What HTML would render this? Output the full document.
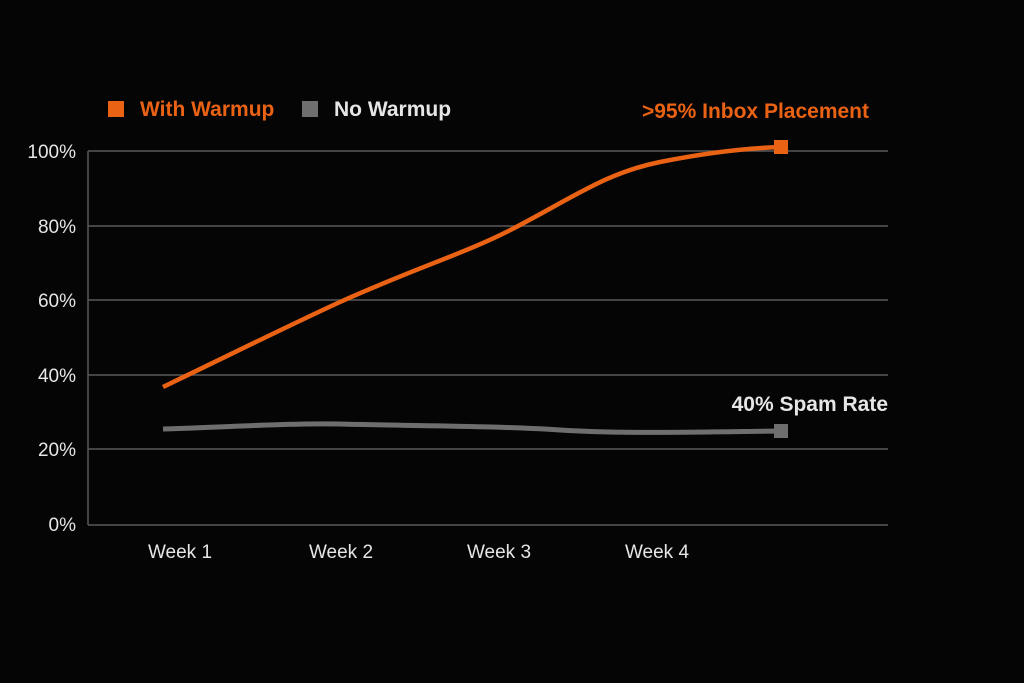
<!DOCTYPE html>
<html><head><meta charset="utf-8"><style>
html,body{margin:0;padding:0;background:#050505;}
svg{display:block}
text{font-family:"Liberation Sans",sans-serif;}
</style></head><body>
<svg width="1024" height="683" viewBox="0 0 1024 683" xmlns="http://www.w3.org/2000/svg">
<rect width="1024" height="683" fill="#050505"/>
<g stroke="#5a5a5a" stroke-width="1.5" fill="none">
<line x1="88" y1="151" x2="888" y2="151"/>
<line x1="88" y1="226" x2="888" y2="226"/>
<line x1="88" y1="300" x2="888" y2="300"/>
<line x1="88" y1="375" x2="888" y2="375"/>
<line x1="88" y1="449" x2="888" y2="449"/>
<line x1="88" y1="525" x2="888" y2="525"/>
<line x1="88" y1="151" x2="88" y2="525"/>
</g>
<g fill="#e6e6e6" font-size="19" text-anchor="end">
<text x="76" y="158">100%</text>
<text x="76" y="233">80%</text>
<text x="76" y="307">60%</text>
<text x="76" y="382">40%</text>
<text x="76" y="456">20%</text>
<text x="76" y="531">0%</text>
</g>
<g fill="#e6e6e6" font-size="19" text-anchor="middle">
<text x="180" y="558">Week 1</text>
<text x="341" y="558">Week 2</text>
<text x="499" y="558">Week 3</text>
<text x="657" y="558">Week 4</text>
</g>
<path d="M163,429 C230,427 290,423 340,424 C420,426 500,426 560,430 C620,434 700,432 781,431" stroke="#6e6e6e" stroke-width="5" fill="none"/>
<rect x="774" y="424" width="14" height="14" fill="#6e6e6e"/>
<path d="M163,387 C250,345 290,325 340,302 C420,266 470,252 520,225 C580,193 610,172 660,162 C710,152 750,148 781,147" stroke="#ea6214" stroke-width="4.5" fill="none"/>
<rect x="774" y="140" width="14" height="14" fill="#ea6214"/>
<text x="869" y="118" fill="#ea6214" font-size="21" font-weight="bold" text-anchor="end">&gt;95% Inbox Placement</text>
<text x="888" y="411" fill="#e6e6e6" font-size="21" font-weight="bold" text-anchor="end">40% Spam Rate</text>
<rect x="108" y="101" width="16" height="16" fill="#ea6214"/>
<text x="140" y="116" fill="#ea6214" font-size="21" font-weight="bold">With Warmup</text>
<rect x="302" y="101" width="16" height="16" fill="#6e6e6e"/>
<text x="334" y="116" fill="#e6e6e6" font-size="21" font-weight="bold">No Warmup</text>
</svg>
</body></html>
